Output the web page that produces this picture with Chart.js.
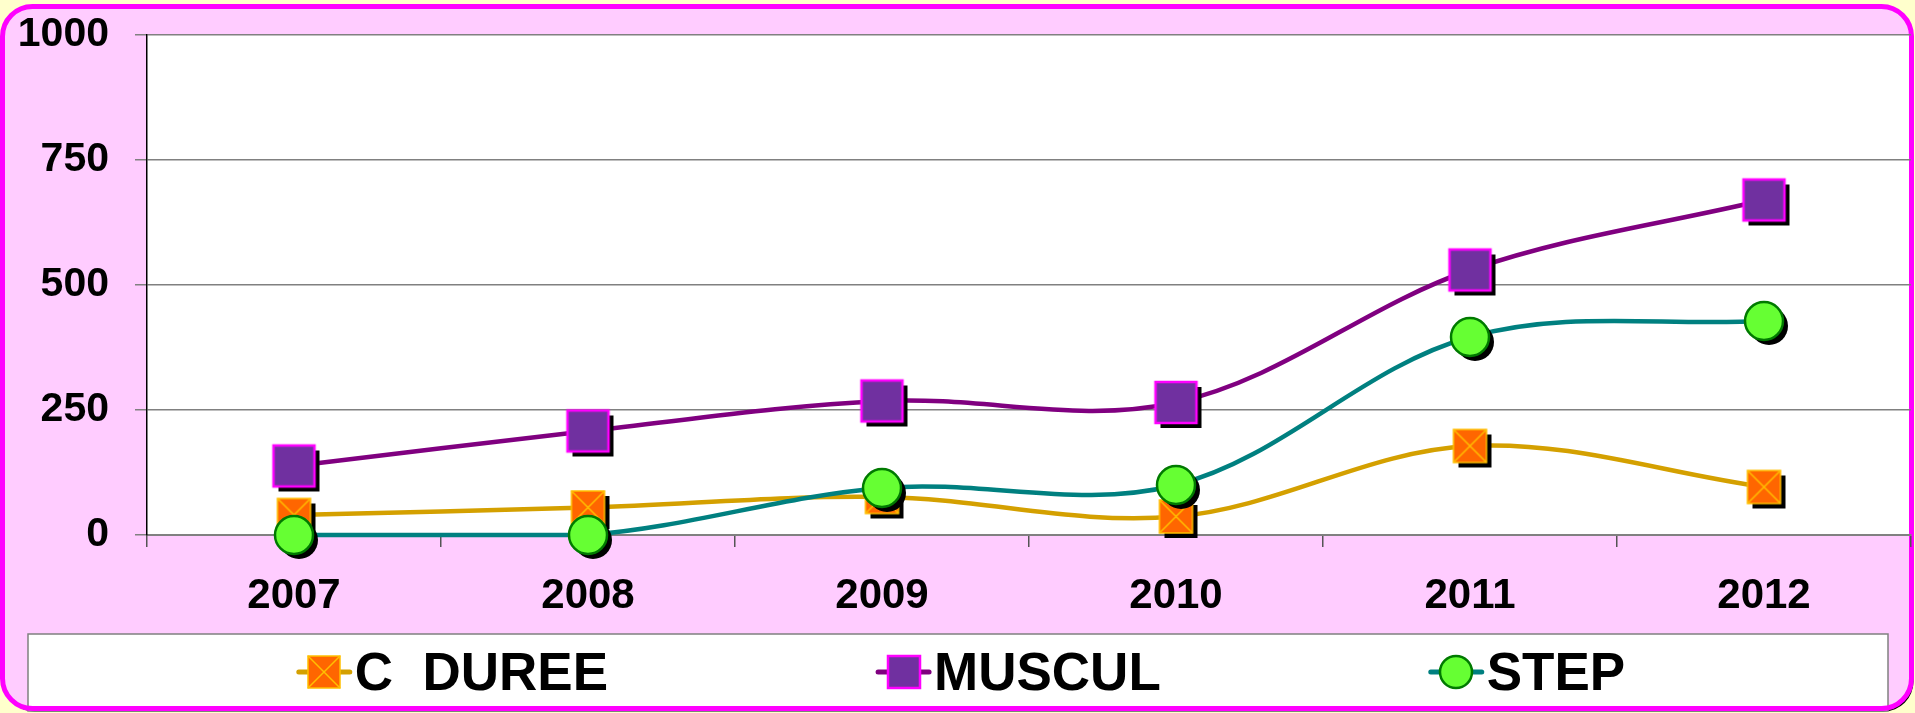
<!DOCTYPE html>
<html>
<head>
<meta charset="utf-8">
<title>C DUREE / MUSCUL / STEP 2007-2012</title>
<script src="https://cdn.jsdelivr.net/npm/chart.js@4.4.1/dist/chart.umd.min.js"></script>
<style>
  html, body { margin: 0; padding: 0; background: #ffffcc; }
  #wrap { width: 1915px; height: 713px; }
</style>
</head>
<body>
<div id="wrap"><canvas id="chart" width="1915" height="713"></canvas></div>
<script>
const years = ["2007", "2008", "2009", "2010", "2011", "2012"];
const cDuree = [40, 55, 76, 37, 178, 96];
const muscul = [138, 208, 268, 265, 530, 670];
const step = [0, 0, 94, 100, 396, 428];
const yTicks = [0, 250, 500, 750, 1000];

const FONT = '"Liberation Sans", Arial, sans-serif';

// marker images (with the offset black shadow seen in the original)
function marker(kind, size, shadow) {
    const off = shadow ? 5 : 0;
    const pad = off + 3;
    const c = document.createElement("canvas");
    c.width = c.height = size + pad * 2;
    const g = c.getContext("2d");
    const m = c.width / 2;
    const h = size / 2;
    const shape = (dx, dy) => {
        g.beginPath();
        if (kind === "step") g.ellipse(m + dx, m + dy, h, h, 0, 0, Math.PI * 2);
        else g.rect(m - h + dx, m - h + dy, size, size);
    };
    if (shadow) {
        shape(off, off);
        g.fillStyle = "#000";
        g.fill();
    }
    shape(0, 0);
    if (kind === "muscul") {
        g.fillStyle = "#7030a0";
        g.fill();
        g.lineWidth = 2.5;
        g.strokeStyle = "#ff00ff";
        g.stroke();
    } else if (kind === "cduree") {
        g.fillStyle = "#ff6600";
        g.fill();
        g.lineWidth = 1.5;
        g.strokeStyle = "#ffc000";
        g.stroke();
        g.beginPath();
        g.moveTo(m - h, m - h); g.lineTo(m + h, m + h);
        g.moveTo(m + h, m - h); g.lineTo(m - h, m + h);
        g.stroke();
    } else {
        g.fillStyle = "#66ff33";
        g.fill();
        g.lineWidth = 2.5;
        g.strokeStyle = "#007a00";
        g.stroke();
    }
    return c;
}

const legendIcons = {
    "C  DUREE": marker("cduree", 32, false),
    "MUSCUL": marker("muscul", 32, false),
    "STEP": marker("step", 32, false),
};

function roundRect(ctx, x, y, w, h, r) {
    ctx.beginPath();
    ctx.moveTo(x + r, y);
    ctx.lineTo(x + w - r, y);
    ctx.arcTo(x + w, y, x + w, y + r, r);
    ctx.lineTo(x + w, y + h - r);
    ctx.arcTo(x + w, y + h, x + w - r, y + h, r);
    ctx.lineTo(x + r, y + h);
    ctx.arcTo(x, y + h, x, y + h - r, r);
    ctx.lineTo(x, y + r);
    ctx.arcTo(x, y, x + r, y, r);
    ctx.closePath();
}

const legendBox = { left: 28, top: 634, right: 1888, bottom: 711 };

const framePlugin = {
    id: "frame",
    beforeDraw(chart) {
        const ctx = chart.ctx;
        const a = chart.chartArea;
        ctx.save();
        // pink panel with magenta rounded border
        roundRect(ctx, 4.5, 9.5, 1909, 702, 30);
        ctx.fillStyle = "#000";
        ctx.fill();
        roundRect(ctx, 2.5, 6.5, 1909, 702, 30);
        ctx.fillStyle = "#ffccff";
        ctx.fill();
        // plot area
        ctx.fillStyle = "#fff";
        ctx.fillRect(a.left, a.top, a.right - a.left, a.bottom - a.top);
        // legend box
        ctx.fillRect(legendBox.left, legendBox.top, legendBox.right - legendBox.left, legendBox.bottom - legendBox.top);
        ctx.strokeStyle = "#808080";
        ctx.lineWidth = 1.5;
        ctx.strokeRect(legendBox.left, legendBox.top, legendBox.right - legendBox.left, legendBox.bottom - legendBox.top);
        roundRect(ctx, 2.5, 6.5, 1909, 702, 30);
        ctx.strokeStyle = "#ff00ff";
        ctx.lineWidth = 5;
        ctx.stroke();
        ctx.restore();
    },
    afterDraw(chart) {
        const ctx = chart.ctx;
        ctx.save();
        ctx.font = "bold 53px " + FONT;
        const seg = 55;
        const gap = 268;
        const items = chart.data.datasets.map(ds => ({ ds, w: seg + 3 + ctx.measureText(ds.label).width }));
        const total = items.reduce((s, it) => s + it.w, 0) + gap * (items.length - 1);
        let x = 961 - total / 2;
        const cy = 672;
        items.forEach(it => {
            ctx.strokeStyle = it.ds.borderColor;
            ctx.lineWidth = 5;
            ctx.lineCap = "round";
            ctx.beginPath();
            ctx.moveTo(x + 2, cy);
            ctx.lineTo(x + seg - 2, cy);
            ctx.stroke();
            const icon = legendIcons[it.ds.label];
            ctx.drawImage(icon, Math.round(x + seg / 2 - icon.width / 2), Math.round(cy - icon.height / 2));
            ctx.fillStyle = "#000";
            ctx.textBaseline = "alphabetic";
            ctx.fillText(it.ds.label, x + seg + 3, 690);
            x += it.w + gap;
        });
        ctx.restore();
    }
};

new Chart(document.getElementById("chart"), {
    type: "line",
    data: {
        labels: years,
        datasets: [
            {
                label: "C  DUREE",
                data: cDuree,
                borderColor: "#d4a000",
                pointStyle: marker("cduree", 33, true),
                clip: false,
                order: 3,
            },
            {
                label: "MUSCUL",
                data: muscul,
                borderColor: "#800080",
                pointStyle: marker("muscul", 41, true),
                clip: false,
                order: 2,
            },
            {
                label: "STEP",
                data: step,
                borderColor: "#008080",
                pointStyle: marker("step", 38, true),
                clip: false,
                order: 1,
            },
        ],
    },
    options: {
        responsive: false,
        animation: false,
        devicePixelRatio: 1,
        layout: {
            autoPadding: false,
            padding: { left: 18, right: 4, top: 35, bottom: 92 },
        },
        elements: {
            line: { borderWidth: 4.5, tension: 0.35, fill: false },
            point: { radius: 20, hoverRadius: 20 },
        },
        plugins: {
            legend: { display: false },
            tooltip: { enabled: false },
        },
        scales: {
            x: {
                offset: true,
                afterFit: (scale) => {
                    scale.height = 86;
                    scale.paddingLeft = 0;
                    scale.paddingRight = 0;
                },
                grid: {
                    offset: true,
                    drawOnChartArea: false,
                    tickLength: 12,
                    color: "#555",
                    lineWidth: 1.5,
                },
                border: { color: "#808080", width: 2 },
                ticks: {
                    color: "#000",
                    padding: 24,
                    font: { family: FONT, size: 42, weight: "bold" },
                },
            },
            y: {
                min: 0,
                max: 1000,
                afterBuildTicks: (scale) => {
                    scale.ticks = yTicks.map(v => ({ value: v }));
                },
                afterFit: (scale) => {
                    scale.width = 129;
                    scale.paddingTop = 0;
                    scale.paddingBottom = 0;
                },
                grid: {
                    color: "#808080",
                    lineWidth: 1.5,
                    tickLength: 12,
                },
                border: { color: "#000", width: 1.5 },
                ticks: {
                    color: "#000",
                    padding: 26,
                    callback: (v) => String(v),
                    font: { family: FONT, size: 41, weight: "bold" },
                },
            },
        },
    },
    plugins: [framePlugin],
});
</script>
</body>
</html>
